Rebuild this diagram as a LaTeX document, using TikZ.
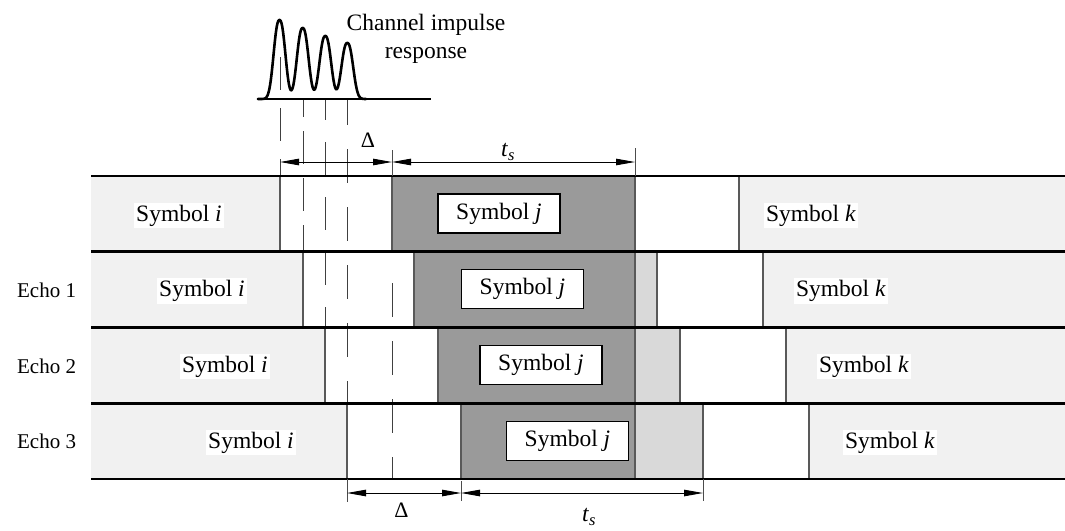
\documentclass[tikz,border=0pt]{standalone}
\usepackage{fontspec}
\setmainfont{Liberation Serif}
\usetikzlibrary{arrows.meta}
\definecolor{lg}{HTML}{F1F1F1}
\definecolor{dg}{HTML}{9A9A9A}
\definecolor{mg}{HTML}{D9D9D9}
\tikzset{
  every node/.style={inner sep=0pt, outer sep=0pt},
  lab/.style={font=\fontsize{23.5}{28}\selectfont, anchor=base},
  symi/.style={lab, fill=white, inner sep=2pt},
  symj/.style={draw=black, line width=1.2pt, fill=white, minimum width=122pt, minimum height=39pt, font=\fontsize{23.5}{28}\selectfont},
  echolab/.style={font=\fontsize{21}{25}\selectfont, anchor=base east},
  bound/.style={draw=black!65, line width=1.2pt},
  rowline/.style={line width=2.6pt},
  dimline/.style={line width=0.9pt, {Triangle[length=19pt,width=6.5pt]}-{Triangle[length=19pt,width=6.5pt]}},
  tickline/.style={line width=1pt, draw=black!70},
  dsh/.style={line width=1pt, draw=black!75},
  declare function={g(\t,\m,\a)=\a*exp(-(abs(\t-\m)/7.5)^2.4);},
}
\begin{document}
\begin{tikzpicture}[x=1pt,y=-1pt]
\useasboundingbox (0,0) rectangle (1065,530);
% ---- row fills
\fill[lg] (91,176) rectangle (280,251.75);
\fill[dg] (392,176) rectangle (635,251.75);
\fill[lg] (739,176) rectangle (1065,251.75);
\fill[lg] (91,251.75) rectangle (303,327.5);
\fill[dg] (414,251.75) rectangle (635,327.5);
\fill[mg] (635,251.75) rectangle (657,327.5);
\fill[lg] (763,251.75) rectangle (1065,327.5);
\fill[lg] (91,327.5) rectangle (325,403.25);
\fill[dg] (438,327.5) rectangle (635,403.25);
\fill[mg] (635,327.5) rectangle (680,403.25);
\fill[lg] (786,327.5) rectangle (1065,403.25);
\fill[lg] (91,403.25) rectangle (347,479);
\fill[dg] (461,403.25) rectangle (635,479);
\fill[mg] (635,403.25) rectangle (703,479);
\fill[lg] (809,403.25) rectangle (1065,479);
% ---- dashed guide lines
\draw[dsh, dash pattern=on 33pt off 18pt] (280,57) -- (280,176);
\draw[dsh, dash pattern=on 33pt off 14pt, dash phase=15pt] (303,99) -- (303,251.75);
\draw[dsh, dash pattern=on 33pt off 22pt, dash phase=12pt] (325,99) -- (325,327.5);
\draw[dsh, dash pattern=on 34pt off 24pt, dash phase=8pt] (347,99) -- (347,403.25);
\draw[dsh, dash pattern=on 34pt off 24pt] (392,283) -- (392,479);
% ---- boundaries
\foreach \x in {280,392,635,739} \draw[bound] (\x,176) -- (\x,251.75);
\foreach \x in {303,414,635,657,763} \draw[bound] (\x,251.75) -- (\x,327.5);
\foreach \x in {325,438,635,680,786} \draw[bound] (\x,327.5) -- (\x,403.25);
\foreach \x in {347,461,635,703,809} \draw[bound] (\x,403.25) -- (\x,479);
% ---- row lines
\foreach \y in {176,251.75,327.5,403.25,479} \draw[rowline] (91,\y) -- (1065,\y);
% ---- symbol labels
\node[symi] (i0) at (179,221) {Symbol \textit{i}};
\node[symi] (i1) at (202,296.6) {Symbol \textit{i}};
\node[symi] (i2) at (225,372.4) {Symbol \textit{i}};
\node[symi] (i3) at (251,448.1) {Symbol \textit{i}};
\node[symj] (j0) at (499,213.5) {Symbol \textit{j}};
\node[symj] (j1) at (522.5,289.2) {Symbol \textit{j}};
\node[symj] (j2) at (541,365) {Symbol \textit{j}};
\node[symj] (j3) at (567.5,440.6) {Symbol \textit{j}};
\node[symi] (k0) at (811,221) {Symbol \textit{k}};
\node[symi] (k1) at (841,296.6) {Symbol \textit{k}};
\node[symi] (k2) at (864,372.4) {Symbol \textit{k}};
\node[symi] (k3) at (890,448.1) {Symbol \textit{k}};
% ---- echo labels
\node[echolab] (e1) at (76,297) {Echo 1};
\node[echolab] (e2) at (76,373) {Echo 2};
\node[echolab] (e3) at (76,448.5) {Echo 3};
% ---- impulse response
\draw[line width=2.6pt, line join=round, line cap=round] plot[domain=258:366, samples=217, smooth]
  (\x, {99 - g(\x,279.5,79) - g(\x,302.7,71) - g(\x,325.3,63) - g(\x,347.3,56)});
\draw[line width=2.6pt] (257,99) coordinate (b0) -- (431,99) coordinate (b1);
\node[lab] (cir1) at (426,30) {Channel impulse};
\node[lab] (cir2) at (426,58) {response};
% ---- top dimensions
\coordinate (tA) at (280,162);
\coordinate (tB) at (392,162);
\coordinate (tC) at (635,162);
\draw[tickline] (392,150) -- (392,176);
\draw[tickline] (635,148) -- (635,176);
\draw[dimline] (tA) -- (tB);
\draw[dimline] (tB) -- (tC);
\node[font=\fontsize{22}{26}\selectfont] (dTop) at (368,140) {Δ};
\node[font=\fontsize{23.5}{28}\selectfont] (tsTop) at (508,152) {\textit{t}\textsubscript{\textit{s}}};
% ---- bottom dimensions
\coordinate (bA) at (347,493);
\coordinate (bB) at (461,493);
\coordinate (bC) at (703,493);
\draw[tickline] (347,479) -- (347,502);
\draw[tickline] (461,481) -- (461,501);
\draw[tickline] (703,479) -- (703,501);
\draw[dimline] (bA) -- (bB);
\draw[dimline] (bB) -- (bC);
\node[font=\fontsize{22}{26}\selectfont] (dBot) at (401.5,510) {Δ};
\node[font=\fontsize{23.5}{28}\selectfont] (tsBot) at (589,517) {\textit{t}\textsubscript{\textit{s}}};
\end{tikzpicture}
\end{document}
